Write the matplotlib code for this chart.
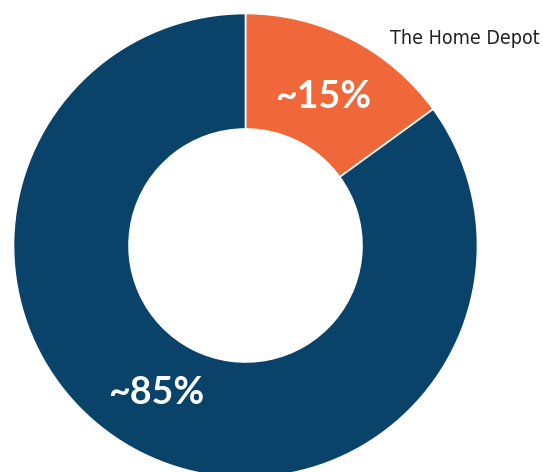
import matplotlib
matplotlib.use("Agg")
import matplotlib.pyplot as plt

categories = ["The Home Depot", "Other"]
values = [15, 85]
labels = ["~15%", "~85%"]
colors = ["#f0673a", "#0a436a"]
title = "The Home Depot"

W, H = 543, 472
fig = plt.figure(figsize=(W / 100, H / 100), dpi=100)
ax = fig.add_axes([0, 0, 1, 1])

cx, cy, R = 245.5, H - 245.5, 232
wedges, _ = ax.pie(values, colors=colors, startangle=90, counterclock=False,
                   center=(cx, cy), radius=R, frame=True,
                   wedgeprops=dict(width=R * 0.498, edgecolor="white", linewidth=1.2))
ax.set_xlim(0, W)
ax.set_ylim(0, H)
ax.set_aspect("equal")
ax.axis("off")

ax.text(323, H - 97, labels[0], color="white", fontsize=27, family="Lato",
        fontweight="bold", ha="center", va="center")
ax.text(156, H - 393, labels[1], color="white", fontsize=27, family="Lato",
        fontweight="bold", ha="center", va="center")
ax.text(540, H - 38, title, color="#222222", fontsize=14,
        family="DejaVu Sans", fontstretch="condensed", ha="right", va="center")

fig.savefig("out.png", dpi=100)
